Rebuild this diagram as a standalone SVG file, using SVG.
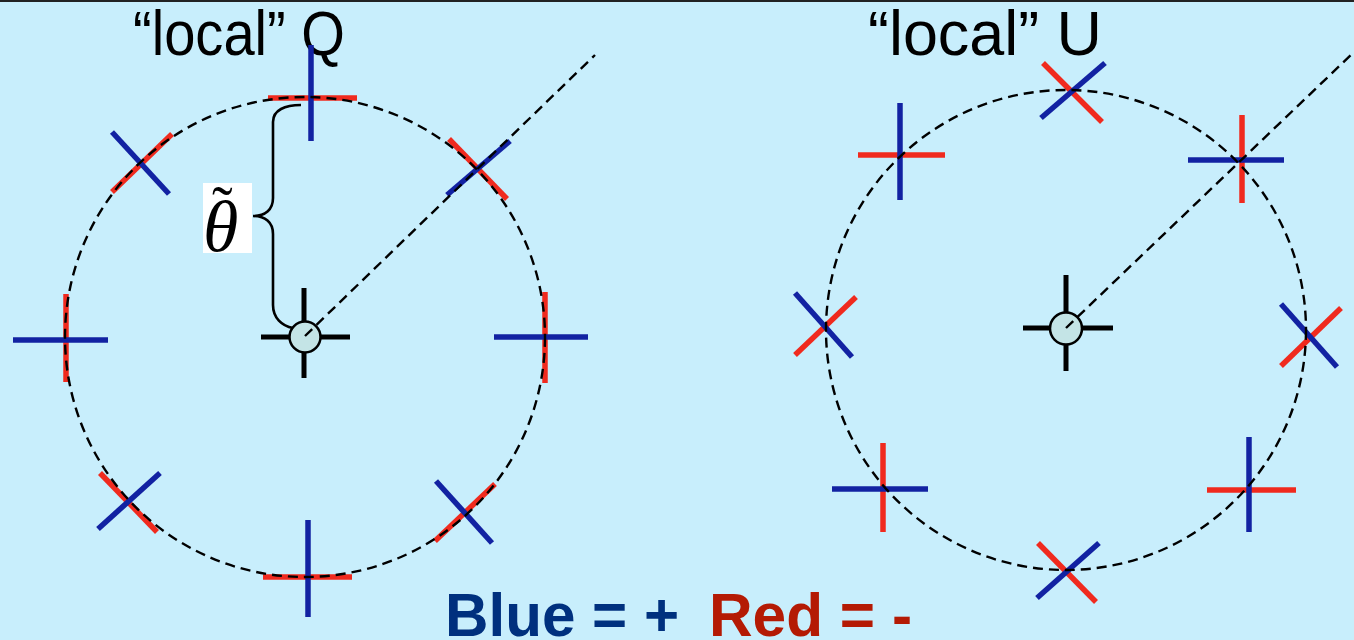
<svg xmlns="http://www.w3.org/2000/svg" width="1354" height="640" viewBox="0 0 1354 640">
<style>
.r{stroke:#f02a1e;stroke-width:5.5;fill:none}
.b{stroke:#1222a2;stroke-width:5.5;fill:none}
.k{stroke:#000;stroke-width:5;fill:none}
.d{stroke:#000;stroke-width:2.4;fill:none;stroke-dasharray:10 6}
.hub{fill:#c4e4e6;stroke:#000;stroke-width:2.5}
.title{font-family:"Liberation Sans",Arial,sans-serif;font-size:63px;fill:#000}
.legend{font-family:"Liberation Sans",Arial,sans-serif;font-size:61px;font-weight:bold}
</style>
<rect x="0" y="0" width="1354" height="640" fill="#c8eefc"/>
<line x1="0" y1="1" x2="1354" y2="1" stroke="#222" stroke-width="2"/>

<g id="title-q"><text class="title" x="133" y="55" textLength="212" lengthAdjust="spacingAndGlyphs">“local” Q</text></g>
<g id="title-u"><text class="title" x="868" y="55" textLength="234" lengthAdjust="spacingAndGlyphs">“local” U</text></g>

<g id="q-crosses">
<g id="q-top"><line class="r" x1="268" y1="98" x2="357" y2="98"/><line class="b" x1="311" y1="45" x2="311" y2="141"/></g>
<g id="q-left"><line class="r" x1="66" y1="294" x2="66" y2="382"/><line class="b" x1="13" y1="340" x2="108" y2="340"/></g>
<g id="q-right"><line class="r" x1="545" y1="292" x2="545" y2="383"/><line class="b" x1="494" y1="337" x2="588" y2="337"/></g>
<g id="q-bottom"><line class="r" x1="263" y1="577" x2="352" y2="577"/><line class="b" x1="308" y1="520" x2="308" y2="617"/></g>
<g id="q-ul"><line class="r" x1="112" y1="192" x2="172" y2="134"/><line class="b" x1="112" y1="132" x2="169" y2="194"/></g>
<g id="q-ur"><line class="r" x1="449" y1="139" x2="507" y2="199"/><line class="b" x1="447" y1="195" x2="510" y2="141"/></g>
<g id="q-ll"><line class="r" x1="100" y1="473" x2="157" y2="532"/><line class="b" x1="98" y1="529" x2="160" y2="473"/></g>
<g id="q-lr"><line class="r" x1="435" y1="541" x2="495" y2="484"/><line class="b" x1="436" y1="481" x2="492" y2="543"/></g>
</g>

<g id="u-crosses">
<g id="u-top"><line class="r" x1="1043" y1="63" x2="1102" y2="122"/><line class="b" x1="1041" y1="118" x2="1105" y2="63"/></g>
<g id="u-ur"><line class="r" x1="1242" y1="115" x2="1242" y2="203"/><line class="b" x1="1188" y1="160" x2="1284" y2="160"/></g>
<g id="u-ul"><line class="r" x1="858" y1="155" x2="945" y2="155"/><line class="b" x1="900" y1="103" x2="900" y2="200"/></g>
<g id="u-left"><line class="r" x1="795" y1="355" x2="856" y2="297"/><line class="b" x1="795" y1="293" x2="852" y2="357"/></g>
<g id="u-right"><line class="r" x1="1281" y1="366" x2="1341" y2="308"/><line class="b" x1="1281" y1="304" x2="1337" y2="367"/></g>
<g id="u-ll"><line class="r" x1="883" y1="443" x2="883" y2="532"/><line class="b" x1="832" y1="489" x2="928" y2="489"/></g>
<g id="u-lr"><line class="r" x1="1207" y1="490" x2="1296" y2="490"/><line class="b" x1="1249" y1="437" x2="1249" y2="532"/></g>
<g id="u-bottom"><line class="r" x1="1038" y1="543" x2="1096" y2="602"/><line class="b" x1="1037" y1="598" x2="1099" y2="543"/></g>
</g>

<g id="q-center">
<line class="k" x1="261" y1="337" x2="350" y2="337"/><line class="k" x1="304" y1="288" x2="304" y2="378"/>
<circle class="hub" cx="305" cy="337" r="15.5"/>
</g>
<g id="u-center">
<line class="k" x1="1023" y1="328" x2="1113" y2="328"/><line class="k" x1="1066" y1="275" x2="1066" y2="371"/>
<circle class="hub" cx="1066" cy="328.5" r="16"/>
</g>

<g id="connectors">
<circle class="d" cx="305" cy="337" r="240"/>
<circle class="d" cx="1066" cy="330" r="240"/>
<line class="d" x1="305" y1="336" x2="595" y2="55"/>
<line class="d" x1="1066" y1="328" x2="1354" y2="52"/>
<path d="M301,105 C285,105 273,110 273,122 L273,198 C273,210 265,216 253,216 C265,216 273,222 273,234 L273,305 C273,318 282,326 293,328" fill="none" stroke="#000" stroke-width="2.6"/>
</g>

<g id="theta-label">
<rect x="203" y="183" width="49" height="70" fill="#fff"/>
<text font-family="'Liberation Serif','Times New Roman',serif" font-size="72" fill="#000"><tspan x="203" y="251" font-style="italic">θ</tspan><tspan x="212" y="229" font-size="62">˜</tspan></text>
</g>

<g id="legend">
<text class="legend" x="445" y="636" fill="#00307e" textLength="234" lengthAdjust="spacingAndGlyphs">Blue = +</text>
<text class="legend" x="709" y="636" fill="#b41a04" textLength="203" lengthAdjust="spacingAndGlyphs">Red = -</text>
</g>
</svg>
